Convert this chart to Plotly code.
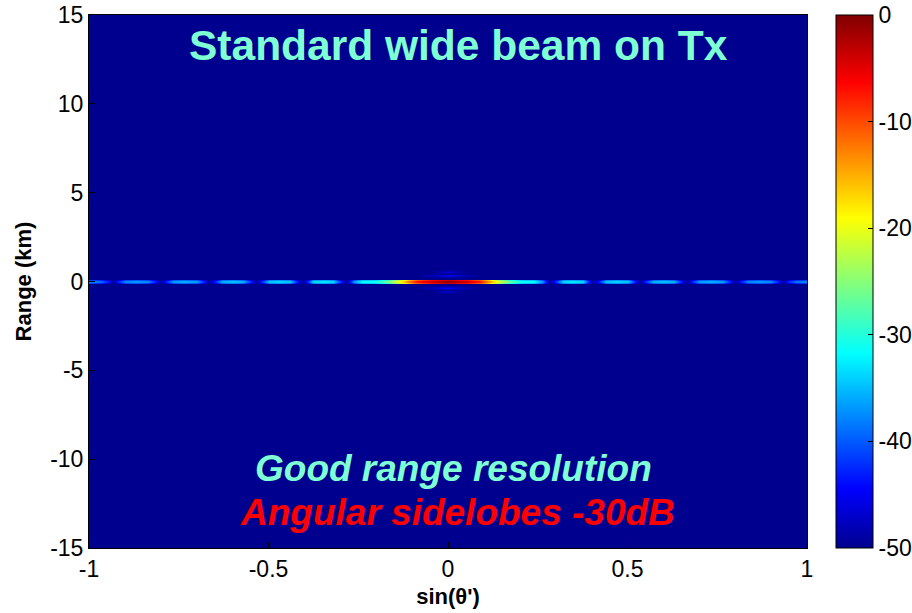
import numpy as np
import plotly.graph_objects as go

# Angular cut of the beam at zero range, for sin(theta') >= 0 (pattern is symmetric)
sin_half = [0.00, 0.05, 0.09, 0.111, 0.134, 0.167, 0.20, 0.24, 0.262, 0.284,
            0.302, 0.32, 0.345, 0.375, 0.39, 0.405, 0.42, 0.44, 0.47, 0.50,
            0.52, 0.535, 0.55, 0.57, 0.60, 0.63, 0.65, 0.666, 0.68, 0.70,
            0.733, 0.765, 0.785, 0.80, 0.815, 0.835, 0.866, 0.90, 0.918,
            0.933, 0.948, 0.97, 1.00]
angular_db_half = [0, -3, -7, -12, -18, -25, -30, -31, -36, -55,
                   -41, -33, -32, -33, -41, -55, -42, -34, -33, -34,
                   -42, -55, -42, -35, -34, -35, -42, -55, -42, -36,
                   -35, -36, -42, -55, -42, -37, -36, -37, -42,
                   -55, -42, -38, -37]

# Range cut through the beam centre (km from 0, dB), symmetric
range_half = [0.0, 0.05, 0.10, 0.16, 0.22, 0.34, 0.45, 0.56, 0.70, 1.0, 15.0]
range_db_half = [0, -1, -4, -60, -60, -45, -60, -47, -60, -60, -60]

x_ticks = [-1, -0.5, 0, 0.5, 1]
x_tick_text = ["-1", "-0.5", "0", "0.5", "1"]
y_ticks = [-15, -10, -5, 0, 5, 10, 15]
y_tick_text = ["-15", "-10", "-5", "0", "5", "10", "15"]
cb_ticks = [0, -10, -20, -30, -40, -50]
cb_tick_text = ["0", "-10", "-20", "-30", "-40", "-50"]

sin_theta = [-v for v in sin_half[:0:-1]] + sin_half
angular_db = angular_db_half[:0:-1] + angular_db_half
range_km = [-v for v in range_half[:0:-1]] + range_half
range_db = range_db_half[:0:-1] + range_db_half

# Separable beam: angular response times range response (sum in dB)
z = np.clip(np.add.outer(np.array(range_db, float), np.array(angular_db, float)), -50, 0)

jet = [
    [0.0, "rgb(0,0,143)"],
    [0.111, "rgb(0,0,255)"],
    [0.365, "rgb(0,255,255)"],
    [0.619, "rgb(255,255,0)"],
    [0.873, "rgb(255,0,0)"],
    [1.0, "rgb(128,0,0)"],
]

FONT = "Liberation Sans, Arial, sans-serif"

fig = go.Figure(go.Heatmap(
    x=sin_theta, y=range_km, z=z,
    zmin=-50, zmax=0, zsmooth="best",
    colorscale=jet,
    colorbar=dict(
        x=1.04, xanchor="left", xpad=0,
        y=0.5, yanchor="middle", ypad=0,
        len=1.0, lenmode="fraction", thickness=37,
        outlinecolor="black", outlinewidth=1,
        tickvals=cb_ticks, ticktext=cb_tick_text,
        ticks="inside", ticklen=5, tickcolor="black",
        tickfont=dict(family=FONT, size=23, color="black"),
    ),
    hoverinfo="skip",
))

fig.update_xaxes(
    range=[-1, 1], tickvals=x_ticks, ticktext=x_tick_text,
    ticks="inside", ticklen=6, tickcolor="black",
    showline=True, mirror=True, linecolor="black", linewidth=1,
    showgrid=False, zeroline=False,
    tickfont=dict(family=FONT, size=23, color="black"),
    title=dict(text="<b>sin(θ')</b>", font=dict(family=FONT, size=22, color="black"), standoff=8),
)
fig.update_yaxes(
    range=[-15, 15], tickvals=y_ticks, ticktext=y_tick_text,
    ticks="inside", ticklen=6, tickcolor="black",
    showline=True, mirror=True, linecolor="black", linewidth=1,
    showgrid=False, zeroline=False,
    tickfont=dict(family=FONT, size=23, color="black"),
    title=dict(text="<b>Range (km)</b>", font=dict(family=FONT, size=22, color="black"), standoff=12),
)

fig.add_annotation(
    text="<b>Standard wide beam on Tx</b>", xref="paper", yref="paper",
    x=0.514, y=0.943, xanchor="center", yanchor="middle", showarrow=False,
    font=dict(family=FONT, size=42.5, color="#7FFFD4"),
)
fig.add_annotation(
    text="<b><i>Good range resolution</i></b>", xref="paper", yref="paper",
    x=0.508, y=0.150, xanchor="center", yanchor="middle", showarrow=False,
    font=dict(family=FONT, size=37, color="#7FFFD4"),
)
fig.add_annotation(
    text="<b><i>Angular sidelobes -30dB</i></b>", xref="paper", yref="paper",
    x=0.513, y=0.0675, xanchor="center", yanchor="middle", showarrow=False,
    font=dict(family=FONT, size=37, color="#FF0000"),
)

fig.update_layout(
    width=912, height=613,
    margin=dict(l=89, r=105, t=15, b=65, autoexpand=False),
    paper_bgcolor="white", plot_bgcolor="rgb(0,0,143)",
    showlegend=False,
)

fig.write_html("out.html")
